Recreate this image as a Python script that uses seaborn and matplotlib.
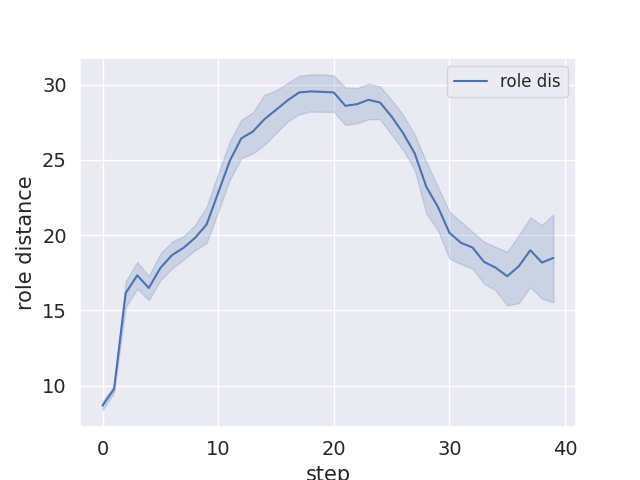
import numpy as np
import pandas as pd
import matplotlib
matplotlib.use('Agg')
import matplotlib.pyplot as plt
import seaborn as sns

# values
steps = list(range(40))
mean_dis = [8.67, 9.78, 16.15, 17.33, 16.49, 17.82, 18.67, 19.16, 19.82, 20.71,
            22.82, 24.93, 26.44, 26.89, 27.71, 28.33, 28.96, 29.49, 29.56, 29.53,
            29.49, 28.60, 28.71, 29.00, 28.82, 27.89, 26.78, 25.44, 23.22, 21.89,
            20.16, 19.49, 19.18, 18.22, 17.84, 17.27, 17.93, 19.00, 18.18, 18.49]
upper_dis = [8.95, 10.0, 16.93, 18.22, 17.27, 18.78, 19.56, 19.93, 20.67, 21.89,
             24.11, 26.22, 27.67, 28.16, 29.33, 29.62, 30.11, 30.60, 30.69, 30.69,
             30.62, 29.82, 29.78, 30.07, 29.89, 29.00, 28.00, 26.67, 24.89, 23.22,
             21.56, 20.89, 20.22, 19.56, 19.22, 18.89, 20.00, 21.18, 20.67, 21.38]
lower_dis = [8.35, 9.55, 15.22, 16.44, 15.67, 17.00, 17.78, 18.38, 19.00, 19.49,
             21.56, 23.67, 25.11, 25.44, 26.00, 26.78, 27.55, 28.04, 28.22, 28.20,
             28.20, 27.33, 27.44, 27.71, 27.71, 26.67, 25.67, 24.33, 21.44, 20.33,
             18.44, 18.07, 17.78, 16.78, 16.33, 15.33, 15.49, 16.55, 15.78, 15.53]

df = pd.DataFrame({'step': steps, 'role distance': mean_dis,
                   'upper': upper_dis, 'lower': lower_dis})

sns.set_theme(style='darkgrid')

fig, ax = plt.subplots(figsize=(6.4, 4.8), dpi=100)
sns.lineplot(data=df, x='step', y='role distance', label='role dis', ax=ax)
# confidence band, same look as seaborn's own errorband
ax.fill_between(df['step'], df['lower'], df['upper'],
                color=sns.color_palette()[0], alpha=0.2)

ax.set_xlabel('step', fontsize=15)
ax.set_ylabel('role distance', fontsize=15)
ax.tick_params(labelsize=14)
ax.legend(loc='upper right', fontsize=12)

plt.savefig('out.png', dpi=100)
